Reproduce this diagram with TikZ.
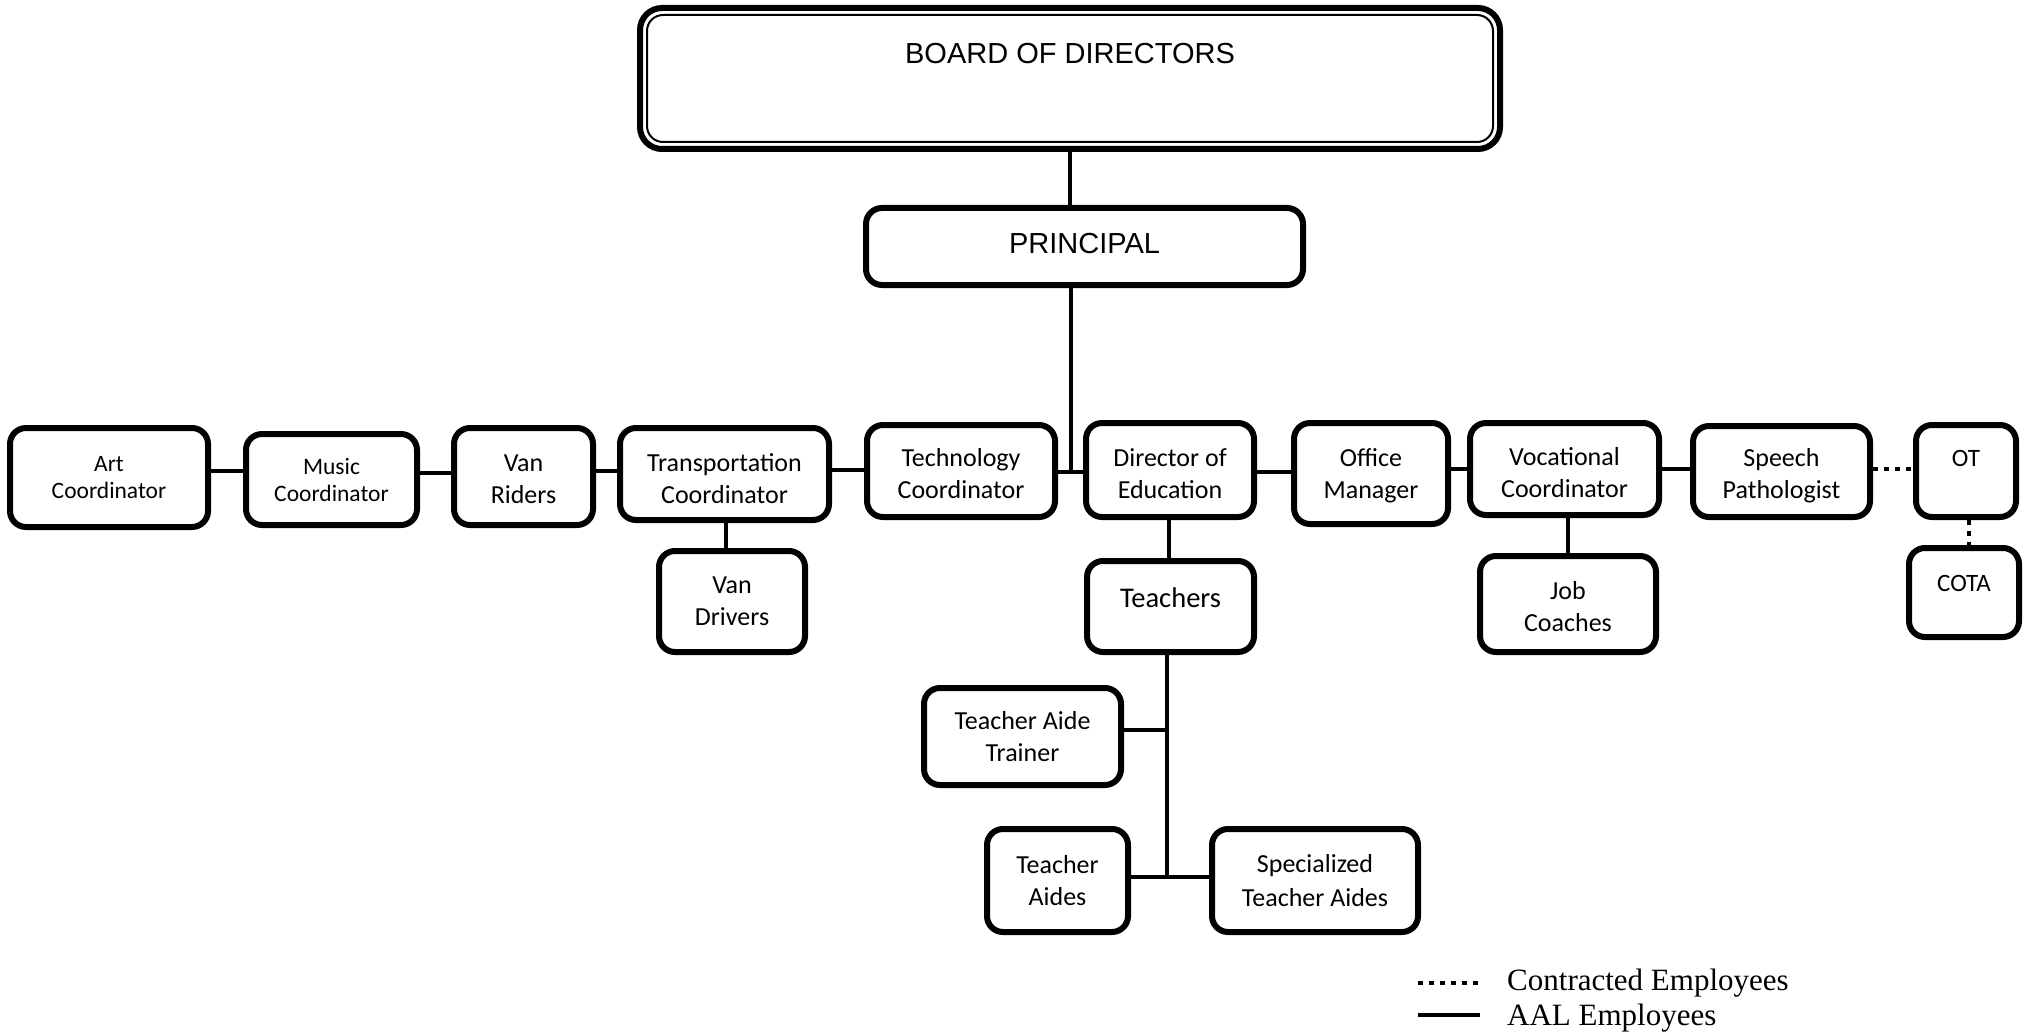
\documentclass[tikz,border=0pt]{standalone}
\usepackage{fontspec}
\setmainfont{Carlito}
\newfontfamily\arialf{Liberation Sans}
\newfontfamily\timesf{Liberation Serif}
\begin{document}
\begin{tikzpicture}[x=1pt,y=-1pt,
  box/.style={draw, line width=6pt, rounded corners=16pt, align=center, inner sep=0pt,
    font=\fontsize{26}{32}\selectfont},
  small/.style={font=\fontsize{23.5}{27}\selectfont},
  lower/.style={text height=#1, text depth=0pt},
  link/.style={line width=4.5pt},
  contract/.style={line width=4.5pt, dash pattern=on 4.5pt off 6.5pt}]
\useasboundingbox (0,0) rectangle (2034,1035);

% top
\node[box, minimum width=860pt, minimum height=141pt, rounded corners=22pt,
  font=\arialf\fontsize{29}{35}\selectfont, text depth=51pt] (board) at (1070,78.5) {BOARD OF DIRECTORS};
\draw[line width=2pt, rounded corners=16pt]
  ([xshift=10pt,yshift=-10pt]board.north west) rectangle ([xshift=-10pt,yshift=10pt]board.south east);
\node[box, minimum width=437pt, minimum height=77pt,
  font=\arialf\fontsize{29}{35}\selectfont, text depth=7pt] (principal) at (1084.5,246.5) {PRINCIPAL};

% row
\node[box, small, minimum width=198pt, minimum height=99pt] (art) at (109,477.5) {Art\\Coordinator};
\node[box, small, minimum width=171pt, minimum height=91pt] (music) at (331.5,479.5) {Music\\Coordinator};
\node[box, minimum width=139pt, minimum height=97pt, lower=53pt] (vanriders) at (523.5,476.5) {Van\\Riders};
\node[box, minimum width=209pt, minimum height=92pt, lower=58pt] (transport) at (724.5,474) {Transportation\\Coordinator};
\node[box, minimum width=188pt, minimum height=92pt, lower=54pt] (tech) at (961,471) {Technology\\Coordinator};
\node[box, minimum width=168pt, minimum height=94pt, lower=56pt] (diredu) at (1170,470) {Director of\\Education};
\node[box, minimum width=154pt, minimum height=101pt, lower=49pt] (office) at (1371,473.5) {Office\\Manager};
\node[box, minimum width=189pt, minimum height=92pt, lower=56pt] (vocational) at (1564.5,469) {Vocational\\Coordinator};
\node[box, minimum width=177pt, minimum height=91pt, lower=53pt] (speech) at (1781.5,471.5) {Speech\\Pathologist};
\node[box, minimum width=100pt, minimum height=92pt, font=\fontsize{25}{30}\selectfont,
  text depth=26pt] (ot) at (1966,471) {OT};

% second level
\node[box, minimum width=146pt, minimum height=101pt] (vandrivers) at (732,601.5) {Van\\Drivers};
\node[box, minimum width=167pt, minimum height=91pt, font=\fontsize{28.5}{34}\selectfont,
  text depth=18pt] (teachers) at (1170.5,606.5) {Teachers};
\node[box, minimum width=176pt, minimum height=96pt, lower=54pt] (jobcoaches) at (1568,604) {Job\\Coaches};
\node[box, minimum width=110pt, minimum height=89pt, font=\fontsize{25}{30}\selectfont,
  text depth=19pt] (cota) at (1964,592.5) {COTA};

% teacher aides
\node[box, minimum width=197pt, minimum height=97pt] (trainer) at (1022.5,736.5) {Teacher Aide\\Trainer};
\node[box, minimum width=141pt, minimum height=103pt] (aides) at (1057.5,880.5) {Teacher\\Aides};
\node[box, minimum width=206pt, minimum height=103pt, font=\fontsize{26}{34}\selectfont] (specialized) at (1315,880.5) {Specialized\\Teacher Aides};

% connectors
\draw[link] (board.south) -- (board.south |- principal.north);
\coordinate (hub) at (1071,472);
\draw[link] (principal.south -| hub) -- (hub);
\draw[link] (art.east |- 0,471) -- (music.west |- 0,471);
\draw[link] (music.east |- 0,473) -- (vanriders.west |- 0,473);
\draw[link] (vanriders.east |- 0,471) -- (transport.west |- 0,471);
\draw[link] (transport.east |- 0,470) -- (tech.west |- 0,470);
\draw[link] (tech.east |- 0,472) -- (diredu.west |- 0,472);
\draw[link] (diredu.east |- 0,472) -- (office.west |- 0,472);
\draw[link] (office.east |- 0,469) -- (vocational.west |- 0,469);
\draw[link] (vocational.east |- 0,469) -- (speech.west |- 0,469);
\draw[contract] (speech.east |- 0,469) -- (ot.west |- 0,469);
\draw[link] (transport.south -| 726,0) -- (vandrivers.north -| 726,0);
\draw[link] (diredu.south -| 1169,0) -- (teachers.north -| 1169,0);
\draw[link] (vocational.south -| 1568,0) -- (jobcoaches.north -| 1568,0);
\draw[contract] (ot.south -| 1969,0) -- (cota.north -| 1969,0);
\coordinate (tj) at (1167,877);
\draw[link] (teachers.south -| tj) -- (tj);
\draw[link] (trainer.east |- 0,730) -- (tj |- 0,730);
\draw[link] (aides.east |- tj) -- (specialized.west |- tj);

% legend
\coordinate (ld1) at (1418,983);
\coordinate (ld2) at (1480,983);
\coordinate (ls1) at (1418,1015);
\coordinate (ls2) at (1480,1015);
\draw[contract] (ld1) -- (ld2);
\draw[link] (ls1) -- (ls2);
\node[anchor=base west, inner sep=0pt, font=\timesf\fontsize{31}{37}\selectfont] (legc) at (1507,990) {Contracted Employees};
\node[anchor=base west, inner sep=0pt, font=\timesf\fontsize{31}{37}\selectfont] (lega) at (1507,1025) {AAL Employees};
\end{tikzpicture}
\end{document}
